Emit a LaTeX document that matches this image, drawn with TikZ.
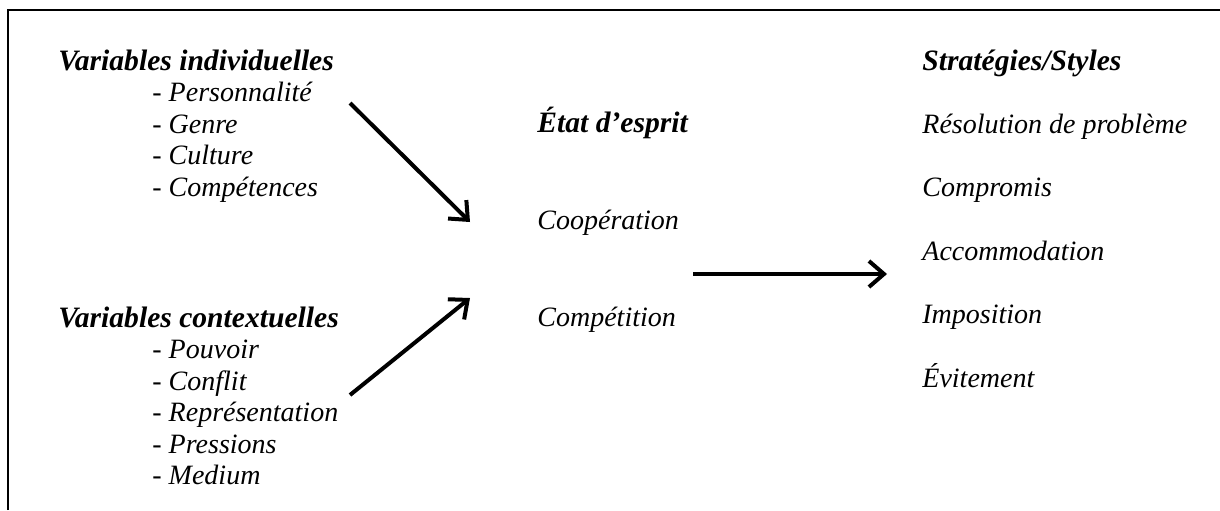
\documentclass[tikz,border=0pt]{standalone}
\usepackage{fontspec}
\setmainfont{Liberation Serif}
\usetikzlibrary{arrows.meta,positioning}

\begin{document}
\begin{tikzpicture}[
    x=0.5pt, y=-0.5pt,
    heading/.style={anchor=base west, inner sep=0pt, font=\fontsize{14.8}{17}\selectfont\bfseries\itshape},
    item/.style={anchor=base west, inner sep=0pt, font=\fontsize{14}{17}\selectfont\itshape},
    arrow/.style={-{Straight Barb[length=7.5pt,width=13pt,line width=2pt]}, line width=2pt}
]
\useasboundingbox (0,0) rectangle (1220,510);
\draw[line width=1pt] (8,510) -- (8,10) -- (1220,10);
% left column
\node[heading] (indiv) at (58,70) {Variables individuelles};
\node[item] (perso) at (152,101.5) {- Personnalité};
\node[item, below=15.75pt of perso.base west, anchor=base west] (genre) {- Genre};
\node[item, below=15.75pt of genre.base west, anchor=base west] (culture) {- Culture};
\node[item, below=15.75pt of culture.base west, anchor=base west] (compet) {- Compétences};
\node[heading] (context) at (58,327) {Variables contextuelles};
\node[item] (pouvoir) at (152,358.5) {- Pouvoir};
\node[item, below=15.75pt of pouvoir.base west, anchor=base west] (conflit) {- Conflit};
\node[item, below=15.75pt of conflit.base west, anchor=base west] (repr) {- Représentation};
\node[item, below=15.75pt of repr.base west, anchor=base west] (press) {- Pressions};
\node[item, below=15.75pt of press.base west, anchor=base west] (medium) {- Medium};
% middle column
\node[heading] (etat) at (537,132) {État d’esprit};
\node[item, below=48.5pt of etat.base west, anchor=base west] (coop) {Coopération};
\node[item, below=48.5pt of coop.base west, anchor=base west] (compe) {Compétition};
% right column
\node[heading] (strat) at (922,70) {Stratégies/Styles};
\node[item, below=31.7pt of strat.base west, anchor=base west] (resol) {Résolution de problème};
\node[item, below=31.7pt of resol.base west, anchor=base west] (compro) {Compromis};
\node[item, below=31.7pt of compro.base west, anchor=base west] (accom) {Accommodation};
\node[item, below=31.7pt of accom.base west, anchor=base west] (impos) {Imposition};
\node[item, below=31.7pt of impos.base west, anchor=base west] (evit) {Évitement};
% arrows
\coordinate (indivout) at (350,103);
\coordinate (contextout) at (350,395);
\coordinate (etatin1) at (470,222);
\coordinate (etatin2) at (470,298);
\coordinate (etatout) at (693,274);
\coordinate (stratin) at (887,274);
\draw[arrow] (indivout) -- (etatin1);
\draw[arrow] (contextout) -- (etatin2);
\draw[arrow] (etatout) -- (stratin);
\end{tikzpicture}
\end{document}
